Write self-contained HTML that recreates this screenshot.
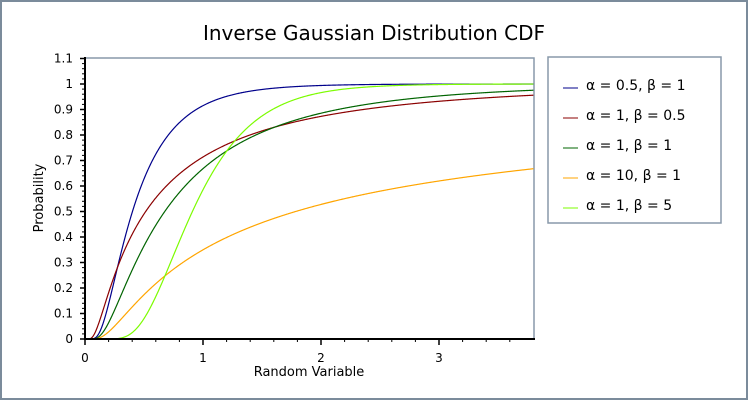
<!DOCTYPE html>
<html><head><meta charset="utf-8"><style>
body{margin:0;background:#fff}
svg{display:block;font-family:"DejaVu Sans","Liberation Sans",sans-serif}
</style></head><body>
<svg id="s" width="748" height="400" viewBox="0 0 748 400" xmlns="http://www.w3.org/2000/svg">
<rect x="1" y="1" width="746" height="398" fill="#fff" stroke="#7b8b9b" stroke-width="2"/>
<text x="374" y="40" font-size="20" text-anchor="middle" fill="#000">Inverse Gaussian Distribution CDF</text>
<rect x="85" y="58" width="449" height="281" fill="#fff" stroke="#8899aa" stroke-width="1.5"/>
<g id="curves" fill="none" stroke-width="1.2"></g>
<line x1="85" y1="57" x2="85" y2="340" stroke="#000" stroke-width="2"/>
<line x1="84" y1="339" x2="535" y2="339" stroke="#000" stroke-width="2"/>
<g id="ticks" stroke="#000"></g>
<g id="labels" font-size="12" fill="#000"></g>
<text x="309" y="376" font-size="13" text-anchor="middle">Random Variable</text>
<text transform="translate(43,198) rotate(-90)" font-size="13" text-anchor="middle">Probability</text>
<rect x="548" y="57" width="173" height="166" fill="#fff" stroke="#8899aa" stroke-width="1.5"/>
<g font-size="14" fill="#000">
<line x1="563" y1="88" x2="578" y2="88" stroke="#00008b"/><text x="586" y="90">α = 0.5, β = 1</text>
<line x1="563" y1="118" x2="578" y2="118" stroke="#8b0000"/><text x="586" y="120">α = 1, β = 0.5</text>
<line x1="563" y1="148" x2="578" y2="148" stroke="#006400"/><text x="586" y="150">α = 1, β = 1</text>
<line x1="563" y1="178" x2="578" y2="178" stroke="#ffa500"/><text x="586" y="180">α = 10, β = 1</text>
<line x1="563" y1="208" x2="578" y2="208" stroke="#7cfc00"/><text x="586" y="210">α = 1, β = 5</text>
</g>
</svg>
<script>
function erfc(x){var z=Math.abs(x),t=1/(1+0.5*z);
var r=t*Math.exp(-z*z-1.26551223+t*(1.00002368+t*(0.37409196+t*(0.09678418+t*(-0.18628806+t*(0.27886807+t*(-1.13520398+t*(1.48851587+t*(-0.82215223+t*0.17087277)))))))));
return x>=0?r:2-r;}
function Phi(x){return 0.5*erfc(-x/Math.SQRT2);}
function Phil(x){ // for negative large x: return log-safe via erfc
return 0.5*erfc(-x/Math.SQRT2);}
function cdf(x,mu,l){if(x<=0)return 0;var s=Math.sqrt(l/x);
var a=Phi(s*(x/mu-1));var z=s*(x/mu+1)/Math.SQRT2;
// exp(2l/mu)*0.5*erfc(z) computed in log-ish form
var t=1/(1+0.5*z);
var e=-z*z-1.26551223+t*(1.00002368+t*(0.37409196+t*(0.09678418+t*(-0.18628806+t*(0.27886807+t*(-1.13520398+t*(1.48851587+t*(-0.82215223+t*0.17087277))))))));
var b=0.5*t*Math.exp(e+2*l/mu);return Math.min(1,a+b);}
var X0=85,SX=118,Y0=339,SY=255;
var ser=[[0.5,1,"#00008b"],[1,0.5,"#8b0000"],[1,1,"#006400"],[10,1,"#ffa500"],[1,5,"#7cfc00"]];
var g=document.getElementById("curves"),ns="http://www.w3.org/2000/svg";
ser.forEach(function(s){var d="";for(var i=0;i<=900;i++){var x=3.8*i/900;var y=cdf(x,s[0],s[1]);
d+=(i?"L":"M")+(X0+x*SX).toFixed(2)+","+(Y0-y*SY).toFixed(2);}
var p=document.createElementNS(ns,"path");p.setAttribute("d",d);p.setAttribute("stroke",s[2]);g.appendChild(p);});
var tk=document.getElementById("ticks"),lb=document.getElementById("labels");
function ln(a,b,c,d,w){var l=document.createElementNS(ns,"line");l.setAttribute("x1",a);l.setAttribute("y1",b);l.setAttribute("x2",c);l.setAttribute("y2",d);l.setAttribute("stroke-width",w);tk.appendChild(l);}
function tx(x,y,s,a){var t=document.createElementNS(ns,"text");t.setAttribute("x",x);t.setAttribute("y",y);t.setAttribute("text-anchor",a);t.textContent=s;lb.appendChild(t);}
for(var i=0;i<=11;i++){var y=Y0-i*25.5;ln(80,y,85,y,1.5);tx(73,y+4,i==10?"1":(i==0?"0":(i==11?"1.1":"0."+i)),"end");
if(i<11)for(var k=1;k<5;k++){ln(82,y-k*5.1,85,y-k*5.1,1);}}
for(var i=0;i<=3;i++){var x=X0+i*SX;ln(x,339,x,345,1.5);tx(x,362,String(i),"middle");}
for(var i=1;i<19;i++){if(i%5)ln(X0+i*SX/5,339,X0+i*SX/5,342,1);}
</script>
</body></html>
